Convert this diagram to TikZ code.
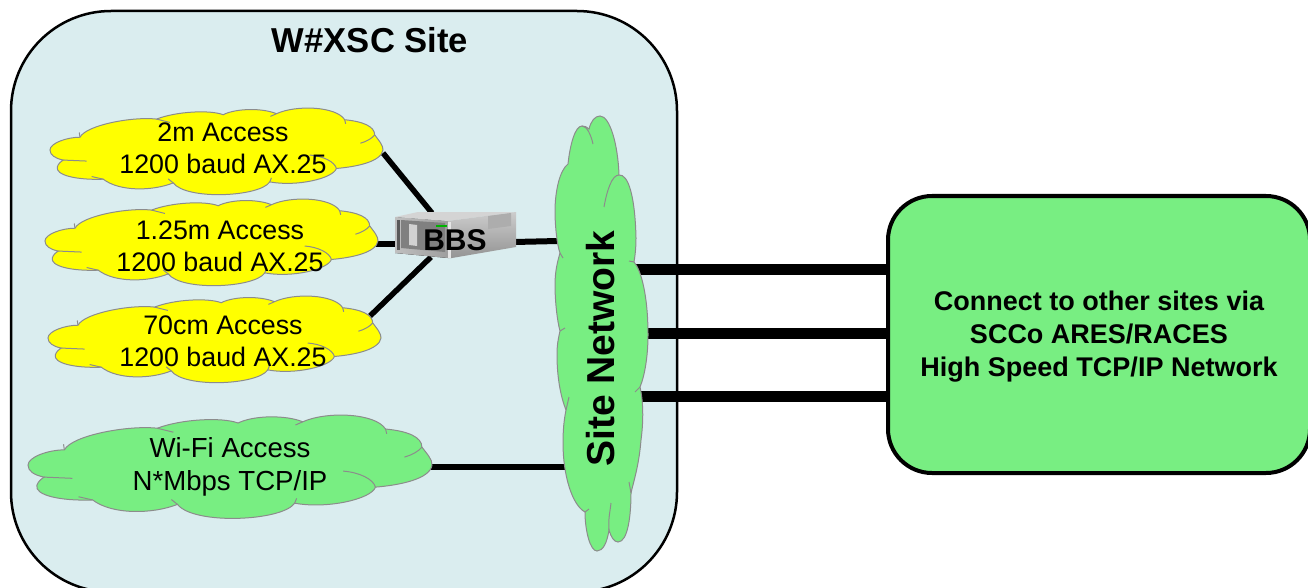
\documentclass[tikz,border=0pt]{standalone}
\usepackage{fontspec}
\setmainfont{Liberation Sans}
\definecolor{sitefill}{HTML}{DAEDEF}
\definecolor{cloudgreen}{HTML}{78EE82}
\definecolor{cloudyellow}{HTML}{FFFF00}
\definecolor{cloudedge}{HTML}{8C8C8C}
\tikzset{
  x=1pt,y=-1pt,
  sitebox/.style={draw=black,line width=2.5pt,fill=sitefill,rounded corners=100pt,minimum width=666pt,minimum height=581pt,inner sep=0pt},
  linkbox/.style={draw=black,line width=4pt,fill=cloudgreen,rounded corners=44pt,minimum width=422pt,minimum height=277pt,align=center,inner sep=0pt},
  linktext/.style={align=center,inner sep=0pt,font=\fontsize{27}{33}\selectfont\bfseries},
  cloudedgeline/.style={draw=cloudedge,line width=1pt},
  cloudtext/.style={align=center,inner sep=0pt,font=\fontsize{26.8}{32}\selectfont},
  wire/.style={draw=black,line width=5.5pt},
  trunk/.style={draw=black,line width=11pt},
}
% cloud outline in a 1000 x 262 box, placed at (x,y) with size (w,h)
\newcommand{\cloudshape}[5]{%
\begin{scope}[shift={(#1,#2)},xscale=#3/1000,yscale=#4/262,shift={(-90,-25)}]
\path[cloudedgeline,fill=#5]
 (180,112) .. controls (200,75) and (340,50) .. (410,58)
 .. controls (470,35) and (570,30) .. (610,45)
 .. controls (650,25) and (730,25) .. (770,42)
 .. controls (830,15) and (950,20) .. (975,60)
 .. controls (1030,65) and (1065,80) .. (1065,105)
 .. controls (1080,125) and (1090,135) .. (1090,150)
 .. controls (1085,185) and (1010,200) .. (950,205)
 .. controls (940,235) and (830,260) .. (750,245)
 .. controls (720,290) and (500,300) .. (460,248)
 .. controls (400,272) and (300,275) .. (250,237)
 .. controls (170,240) and (105,225) .. (112,200)
 .. controls (115,190) and (125,183) .. (130,180)
 .. controls (105,175) and (90,165) .. (90,150)
 .. controls (90,130) and (140,112) .. (180,112) -- cycle;
\draw[cloudedgeline] (1065,105) .. controls (1058,115) and (1040,125) .. (1022,130);
\draw[cloudedgeline] (870,165) .. controls (910,168) and (945,185) .. (950,205);
\draw[cloudedgeline] (130,180) -- (200,183);
\draw[cloudedgeline] (250,237) -- (215,229);
\draw[cloudedgeline] (460,248) -- (445,236);
\draw[cloudedgeline] (750,245) -- (755,233);
\draw[cloudedgeline] (410,58) -- (450,68);
\draw[cloudedgeline] (770,42) -- (752,50);
\draw[cloudedgeline] (975,60) -- (978,72);
\draw[cloudedgeline] (180,112) -- (178,98);
\end{scope}}
\begin{document}
\begin{tikzpicture}
\useasboundingbox (0,0) rectangle (1308,588);
\clip (0,0) rectangle (1308,588);
\node[sitebox] (site) at (344,301.5) {};
\node[linkbox] (link) at (1099,334.5) {};
% ports
\coordinate (cloudA) at (383,153);
\coordinate (cloudB) at (376,244);
\coordinate (cloudC) at (370,316);
\coordinate (cloudW) at (430,467);
\coordinate (bbsA) at (432,213);
\coordinate (bbsB) at (398,244);
\coordinate (bbsC) at (431,257);
\coordinate (bbsS) at (514,242);
\coordinate (netB) at (558,241);
\coordinate (netW) at (566,467);
\coordinate (netA) at (636,269.5);
\coordinate (netC) at (642,333.5);
\coordinate (netD) at (636,396);
% connectors
\draw[wire] (cloudA) -- (bbsA);
\draw[wire] (cloudB) -- (bbsB);
\draw[wire] (cloudC) -- (bbsC);
\draw[wire,line width=6pt] (bbsS) -- (netB);
\draw[wire,line width=6pt] (cloudW) -- (netW);
\draw[trunk] (netA) -- (netA -| link.west);
\draw[trunk] (netC) -- (netC -| link.west);
\draw[trunk] (netD) -- (netD -| link.west);
\node[linktext] (linklabel) at (1099,336.5) {Connect to other sites via\\SCCo ARES/RACES\\High Speed TCP/IP Network};
% clouds
\cloudshape{50}{108}{333}{88}{cloudyellow}
\cloudshape{45}{199}{333}{88}{cloudyellow}
\cloudshape{48}{296}{333}{88}{cloudyellow}
\cloudshape{28}{415}{404}{105}{cloudgreen}
% site network cloud
\path[cloudedgeline,fill=cloudgreen]
 (568,164) .. controls (570,145) and (575,126) .. (582,126)
 .. controls (585,126) and (587,127) .. (589,129)
 .. controls (591,121) and (595,116) .. (600,116)
 .. controls (610,116) and (618,145) .. (619,175)
 .. controls (628,174) and (635,195) .. (636,238)
 .. controls (636,248) and (635,256) .. (634,262)
 .. controls (641,270) and (648,295) .. (648,335)
 .. controls (648,355) and (645,375) .. (640,387)
 .. controls (644,405) and (643,425) .. (641,440)
 .. controls (639,465) and (634,480) .. (631,493)
 .. controls (631,515) and (628,542) .. (618,542)
 .. controls (614,542) and (611,537) .. (609,530)
 .. controls (607,543) and (603,551) .. (597,551)
 .. controls (590,551) and (585,530) .. (585,512)
 .. controls (572,505) and (563,475) .. (563,443)
 .. controls (563,430) and (564,420) .. (566,410)
 .. controls (560,395) and (557,375) .. (557,355)
 .. controls (557,345) and (558,340) .. (560,331)
 .. controls (557,320) and (555,300) .. (555,285)
 .. controls (555,270) and (558,260) .. (560,253)
 .. controls (557,245) and (555,225) .. (555,212)
 .. controls (555,190) and (560,170) .. (568,164) -- cycle;
\draw[cloudedgeline] (582,126) .. controls (587,126) and (591,135) .. (593,144);
\draw[cloudedgeline] (604,207) .. controls (607,190) and (612,175) .. (619,175);
\draw[cloudedgeline] (634,262) -- (629,261);
\draw[cloudedgeline] (640,387) -- (635,392);
\draw[cloudedgeline] (631,493) -- (629,482);
\draw[cloudedgeline] (609,530) .. controls (608,520) and (610,512) .. (611,503);
\draw[cloudedgeline] (585,512) -- (589,509);
\draw[cloudedgeline] (566,410) -- (569,397);
\draw[cloudedgeline] (560,331) -- (565,328);
\draw[cloudedgeline] (560,253) -- (563,258);
% server
\fill[left color=black!25,right color=black!38] (395,217) -- (448,221) -- (448,258) -- (395,253) -- cycle;
\fill[black!17] (395,217) -- (418,212) -- (516,212) -- (448,221) -- cycle;
\shade[top color=black!20,bottom color=black!42] (448,221) -- (516,212) -- (516,247) -- (452,258) -- (448,258) -- cycle;
\fill[black!32] (488,216) -- (511,213) -- (511,226) -- (488,229) -- cycle;
\fill[black!50] (401,220) -- (445,223) -- (445,252) -- (401,248) -- cycle;
\fill[black!18] (409,224) -- (417,225) -- (417,246) -- (409,245) -- cycle;
\fill[black!65] (397,220) -- (400,220) -- (400,250) -- (397,250) -- cycle;
\fill[black!10] (448,222) -- (451,222) -- (451,258) -- (448,258) -- cycle;
\fill[green!70!black] (436,225) -- (447,225) -- (447,227) -- (436,227) -- cycle;
% texts
\node[anchor=base,inner sep=0pt,font=\fontsize{30}{30}\selectfont\bfseries] (bbs) at (455,250) {BBS};
\node[anchor=base,inner sep=0pt,font=\fontsize{34.6}{35}\selectfont\bfseries] (title) at (370,53) {W\#XSC Site};
\node[cloudtext] (tA) at (223,148) {2m Access\\1200 baud AX.25};
\node[cloudtext] (tB) at (220,246) {1.25m Access\\1200 baud AX.25};
\node[cloudtext] (tC) at (223,341) {70cm Access\\1200 baud AX.25};
\node[cloudtext,font=\fontsize{27.6}{33}\selectfont] (tW) at (230,467) {Wi-Fi Access\\N*Mbps TCP/IP};
\node[anchor=base,rotate=90,inner sep=0pt,font=\fontsize{39}{39}\selectfont\bfseries] (net) at (614,348.5) {Site Network};
\end{tikzpicture}
\end{document}
